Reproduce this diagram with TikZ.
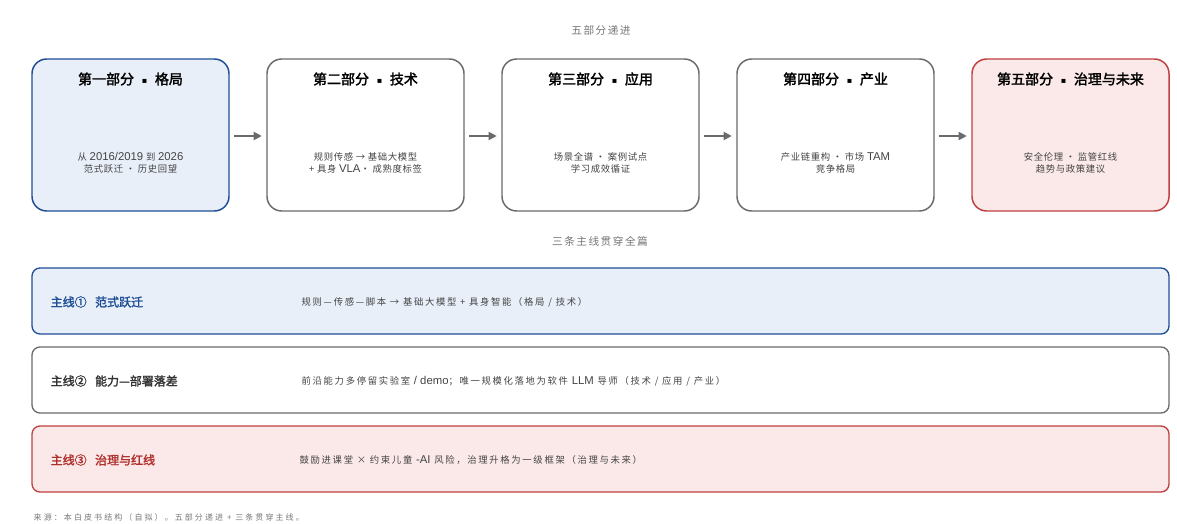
\documentclass[tikz,border=0pt]{standalone}
\usepackage{fontspec}
\setmainfont{Noto Sans CJK SC}[AutoFakeBold=2.0]
\newfontfamily\lat{Liberation Sans}
\newfontfamily\sym{DejaVu Sans}
\newcommand\lsp[1]{\addfontfeatures{LetterSpace=#1}}
\usetikzlibrary{arrows.meta}
\definecolor{bluefill}{HTML}{E8EFF8}
\definecolor{blueline}{HTML}{1F4E96}
\definecolor{redfill}{HTML}{FBE8E8}
\definecolor{redline}{HTML}{C04040}
\definecolor{redtext}{HTML}{B0302E}
\definecolor{greyline}{HTML}{6A6A6A}
\definecolor{bodytext}{HTML}{444444}
\definecolor{captext}{HTML}{777777}
\tikzset{
  partbox/.style={draw=greyline, line width=1.1pt, rounded corners=11pt, fill=white},
  bluebox/.style={partbox, draw=blueline, fill=bluefill},
  redbox/.style={partbox, draw=redline, fill=redfill},
  parttitle/.style={font=\fontsize{10.5}{12}\selectfont\bfseries, text=black, anchor=center},
  partbody/.style={font=\fontsize{7}{9.2}\selectfont\lsp{7}, text=bodytext, align=center, anchor=center},
  flow/.style={draw=greyline, line width=1.3pt, -{Triangle[length=6pt,width=6pt]}},
  caption/.style={font=\fontsize{8}{9}\selectfont\lsp{14}, text=captext, anchor=center},
  band/.style={draw=greyline, line width=1pt, rounded corners=6pt, fill=white},
  blueband/.style={band, draw=blueline, fill=bluefill},
  redband/.style={band, draw=redline, fill=redfill},
  bandlabel/.style={font=\fontsize{9}{11}\selectfont\bfseries, anchor=west},
  bandtext/.style={font=\fontsize{7}{8}\selectfont\lsp{18}, text=bodytext, anchor=west},
  source/.style={font=\fontsize{6}{7}\selectfont\lsp{26}, text=captext, anchor=west},
  slot/.style={minimum width=147.75pt, minimum height=114pt, inner sep=0pt}
}
\newcommand\sep{\hspace{0.55em}{\sym\fontsize{6}{8}\selectfont\raisebox{0.6pt}{▪}}\hspace{0.55em}}
\begin{document}
\begin{tikzpicture}[x=0.75pt, y=-0.75pt]
\useasboundingbox[fill=white] (0,0) rectangle (1177,524);

% heading of the five parts
\node[caption] (head1) at (601,30) {五部分递进};

% the five parts
\draw[bluebox] (32,59) rectangle (229,211);
\draw[partbox] (267,59) rectangle (464,211);
\draw[partbox] (502,59) rectangle (699,211);
\draw[partbox] (737,59) rectangle (934,211);
\draw[redbox] (972,59) rectangle (1169,211);

\node[slot] (p1) at (130.5,135) {};
\node[slot] (p2) at (365.5,135) {};
\node[slot] (p3) at (600.5,135) {};
\node[slot] (p4) at (835.5,135) {};
\node[slot] (p5) at (1070.5,135) {};

\node[parttitle] (t1) at (130.5,79) {第一部分\sep 格局};
\node[parttitle] (t2) at (365.5,79) {第二部分\sep 技术};
\node[parttitle] (t3) at (600.5,79) {第三部分\sep 应用};
\node[parttitle] (t4) at (835.5,79) {第四部分\sep 产业};
\node[parttitle] (t5) at (1070.5,79) {第五部分\sep 治理与未来};

\node[partbody] (b1) at (130.5,163) {从 {\lat\fontsize{8.5}{10}\selectfont 2016/2019} 到 {\lat\fontsize{8.5}{10}\selectfont 2026}\\范式跃迁 · 历史回望};
\node[partbody] (b2) at (365.5,163) {规则传感 → 基础大模型\\+ 具身 {\lat\fontsize{8.5}{10}\selectfont VLA}· 成熟度标签};
\node[partbody] (b3) at (600.5,163) {场景全谱 · 案例试点\\学习成效循证};
\node[partbody] (b4) at (835.5,163) {产业链重构 · 市场 {\lat\fontsize{8.5}{10}\selectfont TAM}\\竞争格局};
\node[partbody] (b5) at (1070.5,163) {安全伦理 · 监管红线\\趋势与政策建议};

\draw[flow] ([xshift=3.75pt,yshift=-0.75pt]p1.east) -- ([xshift=-3.75pt,yshift=-0.75pt]p2.west);
\draw[flow] ([xshift=3.75pt,yshift=-0.75pt]p2.east) -- ([xshift=-3.75pt,yshift=-0.75pt]p3.west);
\draw[flow] ([xshift=3.75pt,yshift=-0.75pt]p3.east) -- ([xshift=-3.75pt,yshift=-0.75pt]p4.west);
\draw[flow] ([xshift=3.75pt,yshift=-0.75pt]p4.east) -- ([xshift=-3.75pt,yshift=-0.75pt]p5.west);

% heading of the three threads
\node[caption] (head2) at (600,241) {三条主线贯穿全篇};

% the three threads
\draw[blueband] (32,268) rectangle (1169,334);
\draw[band] (32,347) rectangle (1169,413);
\draw[redband] (32,426) rectangle (1169,492);

\node[bandlabel, text=blueline] (l1) at (46,302) {主线①\hspace{0.7em}范式跃迁};
\node[bandlabel, text=black!80] (l2) at (46,381) {主线②\hspace{0.7em}能力—部署落差};
\node[bandlabel, text=redtext] (l3) at (46,460) {主线③\hspace{0.7em}治理与红线};

\node[bandtext] (d1) at (297,302) {规则—传感—脚本 → 基础大模型 + 具身智能（格局 / 技术）};
\node[bandtext] (d2) at (297,381) {前沿能力多停留实验室 {\lat\fontsize{8.5}{9}\selectfont / demo}；唯一规模化落地为软件 {\lat\fontsize{8.5}{9}\selectfont LLM} 导师（技术 / 应用 / 产业）};
\node[bandtext] (d3) at (295,460) {鼓励进课堂 × 约束儿童 {\lat\fontsize{8.5}{9}\selectfont -AI} 风险，治理升格为一级框架（治理与未来）};

% source line
\node[source] (src) at (29,517) {来源：本白皮书结构（自拟）。五部分递进 + 三条贯穿主线。};
\end{tikzpicture}
\end{document}
